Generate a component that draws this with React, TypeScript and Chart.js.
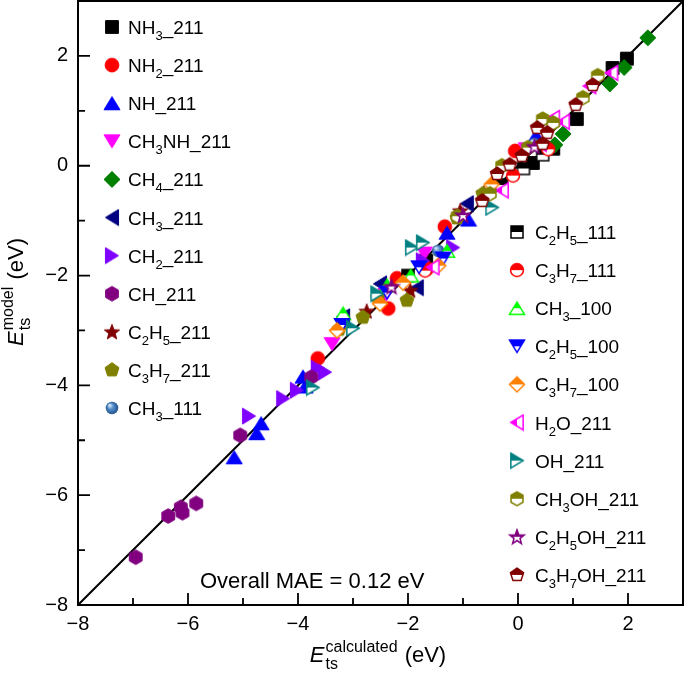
import React, { useEffect, useRef } from 'react';
import { Chart, registerables } from 'chart.js';

Chart.register(...registerables);

const FONT = '"Liberation Sans", Arial, Helvetica, sans-serif';

// ---- data (x = calculated, y = model), eV ----
const NH3_211 = [[1.98, 1.95], [1.72, 1.78], [1.07, 0.85], [0.64, 0.31], [0.27, 0.05], [-1.67, -1.73]];
const NH2_211 = [[-3.64, -3.51], [-1.33, -1.11], [-0.05, 0.27], [-2.2, -2.05], [-2.36, -2.6], [-1.65, -1.87]];
const NH_211 = [[-5.16, -5.31], [-4.75, -4.87], [-4.67, -4.69], [-3.91, -3.84], [-3.87, -4.02], [-1.29, -1.22], [0.33, 0.55], [-0.9, -0.98]];
const CH3NH_211 = [[-3.38, -3.25], [-1.7, -1.6], [-2.4, -2.35], [0.15, 0.3]];
const CH4_211 = [[2.36, 2.33], [1.93, 1.79], [1.67, 1.49], [0.82, 0.58], [0.67, 0.38]];
const CH3_211 = [[-1.84, -2.22], [-0.93, -0.69], [-2.51, -2.15], [-3.18, -2.75]];
const CH2_211 = [[-4.89, -4.56], [-4.27, -4.24], [-4.02, -4.09], [-3.64, -3.69], [-3.51, -3.76], [-1.18, -1.49], [-1.73, -1.73]];
const CH_211 = [[-6.95, -7.13], [-6.36, -6.38], [-6.13, -6.22], [-6.1, -6.32], [-5.85, -6.15], [-5.05, -4.91], [-3.76, -3.85]];
const C2H5_211 = [[-1.05, -0.82], [-1.96, -2.27], [-2.75, -2.65], [-0.62, -0.5]];
const C3H7_211 = [[-1.11, -0.95], [-2.02, -2.45], [-2.82, -2.76], [-0.64, -0.51], [-2.55, -2.4], [-3.25, -2.98]];
const CH3_111 = [[-1.45, -1.55], [0.3, 0.4]];
const C2H5_111 = [[0.1, -0.05], [0.45, 0.2], [-0.3, -0.35], [-2.0, -2.0]];
const C3H7_111 = [[-0.09, -0.18], [-1.69, -1.91], [0.55, 0.3]];
const CH3_100 = [[-1.29, -1.55], [-3.18, -2.69], [-2.38, -2.18], [-1.95, -2.0]];
const C2H5_100 = [[-1.36, -1.69], [-3.2, -2.9], [-2.38, -2.31], [-1.8, -1.85]];
const C3H7_100 = [[-1.45, -1.82], [-2.09, -2.13], [-2.51, -2.51], [-3.29, -3.0], [-0.48, -0.34]];
const H2O_211 = [[1.7, 1.69], [0.82, 0.8], [0.64, 0.87], [0.4, 0.4], [-0.29, -0.45], [-1.55, -1.85], [1.3, 1.45]];
const OH_211 = [[-1.93, -1.49], [-1.73, -1.4], [-0.47, -0.76], [-2.56, -2.33], [-3.0, -2.96], [-3.73, -4.04]];
const CH3OH_211 = [[1.45, 1.64], [1.18, 1.24], [0.45, 0.85], [0.64, 0.78], [0.18, 0.33], [-0.29, 0.0], [-0.51, -0.51], [-1.1, -0.92]];
const C2H5OH_211 = [[-1.0, -0.9], [0.3, 0.35], [-2.3, -2.2]];
const C3H7OH_211 = [[1.36, 1.47], [1.05, 1.11], [0.35, 0.69], [0.53, 0.6], [0.45, 0.4], [0.07, 0.18], [-0.15, 0.02], [-0.38, -0.15], [-0.65, -0.64]];

const PARITY = [[-8, -8], [3, 3]];
const X_TICKS = [-8, -6, -4, -2, 0, 2];
const Y_TICKS = [-8, -6, -4, -2, 0, 2];
const MINOR_TICKS = [-7, -5, -3, -1, 1];
const MAE_TEXT = 'Overall MAE = 0.12 eV';

type Shape = 'square' | 'circle' | 'triUp' | 'triDown' | 'triLeft' | 'triRight' | 'diamond' | 'hexagon' | 'star' | 'pentagon';
type Fill = 'full' | 'top' | 'left' | 'sphere';

const SERIES: { label: string; data: number[][]; shape: Shape; color: string; fill: Fill }[] = [
  { label: 'NH{3}_211', data: NH3_211, shape: 'square', color: '#000000', fill: 'full' },
  { label: 'NH{2}_211', data: NH2_211, shape: 'circle', color: '#ff0000', fill: 'full' },
  { label: 'NH_211', data: NH_211, shape: 'triUp', color: '#0000ff', fill: 'full' },
  { label: 'CH{3}NH_211', data: CH3NH_211, shape: 'triDown', color: '#ff00ff', fill: 'full' },
  { label: 'CH{4}_211', data: CH4_211, shape: 'diamond', color: '#008000', fill: 'full' },
  { label: 'CH{3}_211', data: CH3_211, shape: 'triLeft', color: '#000080', fill: 'full' },
  { label: 'CH{2}_211', data: CH2_211, shape: 'triRight', color: '#8000ff', fill: 'full' },
  { label: 'CH_211', data: CH_211, shape: 'hexagon', color: '#800080', fill: 'full' },
  { label: 'C{2}H{5}_211', data: C2H5_211, shape: 'star', color: '#800000', fill: 'full' },
  { label: 'C{3}H{7}_211', data: C3H7_211, shape: 'pentagon', color: '#808000', fill: 'full' },
  { label: 'CH{3}_111', data: CH3_111, shape: 'circle', color: '#2f6db0', fill: 'sphere' },
  { label: 'C{2}H{5}_111', data: C2H5_111, shape: 'square', color: '#000000', fill: 'top' },
  { label: 'C{3}H{7}_111', data: C3H7_111, shape: 'circle', color: '#ff0000', fill: 'top' },
  { label: 'CH{3}_100', data: CH3_100, shape: 'triUp', color: '#00ff00', fill: 'top' },
  { label: 'C{2}H{5}_100', data: C2H5_100, shape: 'triDown', color: '#0000ff', fill: 'top' },
  { label: 'C{3}H{7}_100', data: C3H7_100, shape: 'diamond', color: '#ff8000', fill: 'top' },
  { label: 'H{2}O_211', data: H2O_211, shape: 'triLeft', color: '#ff00ff', fill: 'left' },
  { label: 'OH_211', data: OH_211, shape: 'triRight', color: '#008080', fill: 'top' },
  { label: 'CH{3}OH_211', data: CH3OH_211, shape: 'hexagon', color: '#808000', fill: 'top' },
  { label: 'C{2}H{5}OH_211', data: C2H5OH_211, shape: 'star', color: '#800080', fill: 'top' },
  { label: 'C{3}H{7}OH_211', data: C3H7OH_211, shape: 'pentagon', color: '#800000', fill: 'top' },
];

function shapePath(ctx: CanvasRenderingContext2D, shape: Shape, r: number) {
  ctx.beginPath();
  const poly = (n: number, rad: number, start: number) => {
    for (let k = 0; k < n; k++) {
      const a = start + (k * 2 * Math.PI) / n;
      const px = rad * Math.cos(a);
      const py = rad * Math.sin(a);
      if (k === 0) ctx.moveTo(px, py);
      else ctx.lineTo(px, py);
    }
  };
  const h = r * 0.82;
  const w = r * 1.0;
  switch (shape) {
    case 'square': {
      const a = r * 0.8;
      ctx.rect(-a, -a, 2 * a, 2 * a);
      break;
    }
    case 'circle':
      ctx.arc(0, 0, r * 0.86, 0, Math.PI * 2);
      break;
    case 'triUp':
      ctx.moveTo(0, -h); ctx.lineTo(w, h); ctx.lineTo(-w, h);
      break;
    case 'triDown':
      ctx.moveTo(0, h); ctx.lineTo(w, -h); ctx.lineTo(-w, -h);
      break;
    case 'triLeft':
      ctx.moveTo(-h, 0); ctx.lineTo(h, -w); ctx.lineTo(h, w);
      break;
    case 'triRight':
      ctx.moveTo(h, 0); ctx.lineTo(-h, -w); ctx.lineTo(-h, w);
      break;
    case 'diamond':
      ctx.moveTo(0, -r); ctx.lineTo(r, 0); ctx.lineTo(0, r); ctx.lineTo(-r, 0);
      break;
    case 'hexagon':
      poly(6, r * 0.92, -Math.PI / 2);
      break;
    case 'pentagon':
      poly(5, r * 0.92, -Math.PI / 2);
      break;
    case 'star': {
      for (let k = 0; k < 10; k++) {
        const a = -Math.PI / 2 + (k * Math.PI) / 5;
        const rad = k % 2 === 0 ? r : r * 0.42;
        const px = rad * Math.cos(a);
        const py = rad * Math.sin(a) + r * 0.08;
        if (k === 0) ctx.moveTo(px, py);
        else ctx.lineTo(px, py);
      }
      break;
    }
  }
  ctx.closePath();
}

function makeMarker(shape: Shape, color: string, fill: Fill, S: number) {
  const c = document.createElement('canvas');
  c.width = S;
  c.height = S;
  const ctx = c.getContext('2d')!;
  ctx.translate(S / 2, S / 2);
  const r = S / 2 - 1;
  if (fill === 'sphere') {
    const g = ctx.createRadialGradient(-r * 0.3, -r * 0.35, r * 0.1, 0, 0, r * 0.8);
    g.addColorStop(0, '#cfe3f7');
    g.addColorStop(0.35, '#5b93cc');
    g.addColorStop(1, '#1d4f8a');
    ctx.beginPath();
    ctx.arc(0, 0, r * 0.78, 0, Math.PI * 2);
    ctx.fillStyle = g;
    ctx.fill();
  } else if (fill === 'full') {
    shapePath(ctx, shape, r);
    ctx.fillStyle = color;
    ctx.fill();
    ctx.strokeStyle = color;
    ctx.lineWidth = 1;
    ctx.stroke();
  } else {
    shapePath(ctx, shape, r - 0.5);
    ctx.fillStyle = '#ffffff';
    ctx.fill();
    ctx.save();
    ctx.beginPath();
    if (fill === 'top') ctx.rect(-S, -S, 2 * S, S);
    else ctx.rect(-S, -S, S, 2 * S);
    ctx.clip();
    shapePath(ctx, shape, r - 0.5);
    ctx.fillStyle = color;
    ctx.fill();
    ctx.restore();
    shapePath(ctx, shape, r - 0.5);
    ctx.strokeStyle = color;
    ctx.lineWidth = 1.5;
    ctx.stroke();
  }
  return c;
}

// label "C{2}H{5}_211" -> segments, {n} = subscript
function parseLabel(label: string) {
  const out: { t: string; sub: boolean }[] = [];
  const re = /\{([^}]*)\}|([^{]+)/g;
  let m: RegExpExecArray | null;
  while ((m = re.exec(label))) {
    if (m[1] !== undefined) out.push({ t: m[1], sub: true });
    else out.push({ t: m[2], sub: false });
  }
  return out;
}

function drawLabel(ctx: CanvasRenderingContext2D, label: string, x: number, y: number) {
  let cx = x;
  ctx.textBaseline = 'alphabetic';
  ctx.textAlign = 'left';
  for (const s of parseLabel(label)) {
    ctx.font = s.sub ? `13px ${FONT}` : `19px ${FONT}`;
    ctx.fillText(s.t, cx, s.sub ? y + 6 : y);
    cx += ctx.measureText(s.t).width;
  }
}

function drawAxisTitle(ctx: CanvasRenderingContext2D, sup: string, cx: number, baseline: number) {
  const mainFont = `22px ${FONT}`;
  const eFont = `italic 22px ${FONT}`;
  const smallFont = `16px ${FONT}`;
  ctx.font = eFont;
  const wE = ctx.measureText('E').width;
  ctx.font = smallFont;
  const wSub = ctx.measureText('ts').width;
  const wSup = ctx.measureText(sup).width;
  const wSS = Math.max(wSub, wSup) + 1;
  ctx.font = mainFont;
  const wEnd = ctx.measureText(' (eV)').width;
  const total = wE + 1 + wSS + wEnd;
  let x = cx - total / 2;
  ctx.textAlign = 'left';
  ctx.textBaseline = 'alphabetic';
  ctx.fillStyle = '#000';
  ctx.font = eFont;
  ctx.fillText('E', x, baseline);
  x += wE + 1;
  ctx.font = smallFont;
  ctx.fillText('ts', x, baseline + 7);
  ctx.fillText(sup, x, baseline - 10);
  x += wSS;
  ctx.font = mainFont;
  ctx.fillText(' (eV)', x, baseline);
}

export default function App() {
  const ref = useRef<HTMLCanvasElement | null>(null);

  useEffect(() => {
    if (!ref.current) return;
    const S = 18;
    const markers = SERIES.map((s) => makeMarker(s.shape, s.color, s.fill, S));

    const datasets: any[] = SERIES.map((s, i) => ({
      type: 'scatter',
      label: s.label,
      data: s.data.map(([x, y]) => ({ x, y })),
      pointStyle: markers[i],
      pointRadius: 8,
      pointHoverRadius: 8,
      order: 50 - i,
    }));
    datasets.push({
      type: 'line',
      label: 'parity',
      data: PARITY.map(([x, y]) => ({ x, y })),
      borderColor: '#000',
      borderWidth: 2,
      pointRadius: 0,
      showLine: true,
      fill: false,
      order: 100,
    });

    const framePlugin = {
      id: 'framePlugin',
      afterDraw(chart: any) {
        const { ctx, chartArea: a, scales } = chart;
        const xs = scales.x;
        const ys = scales.y;
        ctx.save();
        ctx.strokeStyle = '#000';
        ctx.lineWidth = 2;
        ctx.strokeRect(a.left, a.top, a.right - a.left, a.bottom - a.top);
        ctx.lineWidth = 1.8;
        ctx.beginPath();
        for (const v of X_TICKS) {
          const px = xs.getPixelForValue(v);
          ctx.moveTo(px, a.bottom);
          ctx.lineTo(px, a.bottom - 12);
        }
        for (const v of MINOR_TICKS) {
          const px = xs.getPixelForValue(v);
          ctx.moveTo(px, a.bottom);
          ctx.lineTo(px, a.bottom - 7);
        }
        for (const v of Y_TICKS) {
          const py = ys.getPixelForValue(v);
          ctx.moveTo(a.left, py);
          ctx.lineTo(a.left + 12, py);
        }
        for (const v of MINOR_TICKS) {
          const py = ys.getPixelForValue(v);
          ctx.moveTo(a.left, py);
          ctx.lineTo(a.left + 7, py);
        }
        ctx.stroke();

        // legend
        ctx.fillStyle = '#000';
        SERIES.forEach((s, i) => {
          const left = i < 11;
          const row = left ? i : i - 11;
          const my = left ? 27 + row * 38.1 : 232 + row * 38.1;
          const mx = left ? 112 : 517;
          const tx = left ? 128 : 535;
          const m = markers[i];
          ctx.drawImage(m, mx - m.width / 2, my - m.height / 2);
          ctx.fillStyle = '#000';
          drawLabel(ctx, s.label, tx, my + 7);
        });

        // MAE annotation
        ctx.font = `22px ${FONT}`;
        ctx.textAlign = 'left';
        ctx.textBaseline = 'alphabetic';
        ctx.fillText(MAE_TEXT, 200, 588);

        // axis titles
        drawAxisTitle(ctx, 'calculated', 378, 662);
        ctx.save();
        ctx.translate(23, 292);
        ctx.rotate(-Math.PI / 2);
        drawAxisTitle(ctx, 'model', 0, 0);
        ctx.restore();
        ctx.restore();
      },
    };

    const fmt = (v: any) => (Number(v) < 0 ? '\u2212' + Math.abs(Number(v)) : String(v));
    const noPad = (scale: any) => {
      scale.paddingTop = 0;
      scale.paddingBottom = 0;
      scale.paddingLeft = 0;
      scale.paddingRight = 0;
    };

    const chart = new Chart(ref.current, {
      type: 'scatter',
      data: { datasets },
      options: {
        animation: false,
        responsive: false,
        events: [],
        layout: { autoPadding: false, padding: { top: 1, right: 2, left: 0, bottom: 0 } },
        plugins: { legend: { display: false }, tooltip: { enabled: false } },
        scales: {
          x: {
            type: 'linear',
            min: -8,
            max: 3,
            grid: { display: false, drawTicks: false },
            border: { display: false },
            afterBuildTicks: (scale: any) => {
              scale.ticks = X_TICKS.map((v) => ({ value: v }));
            },
            afterFit: (scale: any) => {
              scale.height = 72;
              noPad(scale);
            },
            ticks: {
              padding: 7,
              color: '#000',
              font: { family: FONT, size: 20 },
              callback: fmt,
              maxRotation: 0,
            },
          },
          y: {
            type: 'linear',
            min: -8,
            max: 3,
            grid: { display: false, drawTicks: false },
            border: { display: false },
            afterBuildTicks: (scale: any) => {
              scale.ticks = Y_TICKS.map((v) => ({ value: v }));
            },
            afterFit: (scale: any) => {
              scale.width = 78;
              noPad(scale);
            },
            ticks: {
              padding: 10,
              color: '#000',
              font: { family: FONT, size: 20 },
              callback: fmt,
            },
          },
        },
      },
      plugins: [framePlugin],
    } as any);

    return () => chart.destroy();
  }, []);

  return (
    <div style={{ position: 'absolute', left: 0, top: 0, width: 685, height: 677, background: '#fff' }}>
      <canvas ref={ref} width={685} height={677} style={{ width: 685, height: 677, display: 'block' }} />
    </div>
  );
}
